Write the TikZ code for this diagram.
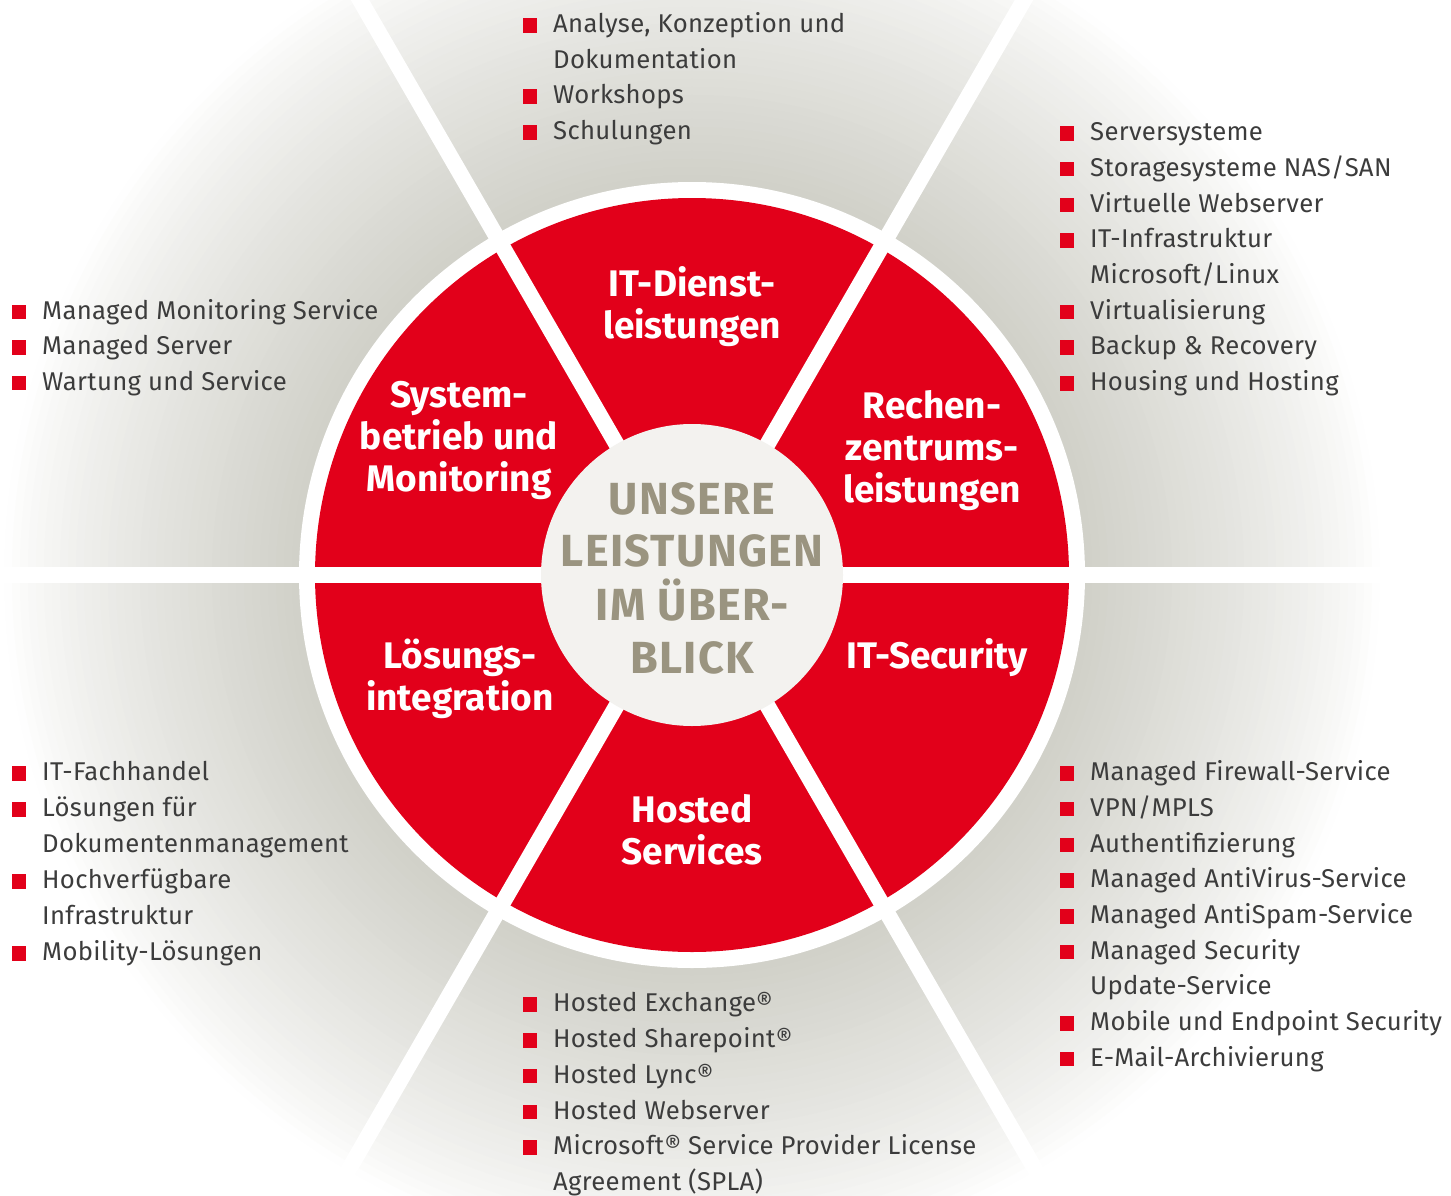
\documentclass[tikz,border=0pt]{standalone}
\usepackage{fontspec}
\setmainfont{Fira Sans}
\newfontfamily\listfont{Fira Sans}[LetterSpace=1.2]
\newfontfamily\mittefont{Fira Sans}[LetterSpace=3]
\definecolor{itred}{RGB}{226,0,26}
\definecolor{bggray}{RGB}{208,208,200}
\definecolor{innen}{RGB}{243,242,239}
\definecolor{khaki}{RGB}{154,148,128}
\definecolor{schrift}{RGB}{60,60,60}
\newcommand{\bul}{\llap{\textcolor{itred}{\rule{14.5pt}{14.5pt}}\hspace{16pt}}}

\begin{document}
\begin{tikzpicture}[x=1pt,y=-1pt,
  punkt/.style={anchor=base west,inner sep=0pt,text=schrift,font=\listfont\fontsize{25.7}{30}\selectfont},
  kopf/.style={anchor=base,inner sep=0pt,text=white,font=\bfseries\fontsize{37}{42}\selectfont},
  mitte/.style={anchor=base,inner sep=0pt,text=khaki,font=\mittefont\bfseries\fontsize{45}{50}\selectfont}]

\useasboundingbox (0,0) rectangle (1451,1196);

%Hintergrund
\foreach \r in {688,680,...,392} {
  \pgfmathsetmacro\p{100*(max(0,min(1,(690-\r)/297)))^0.8}
  \fill[bggray!\p!white] (692,575) circle (\r);
}
\fill[white] (692,575) circle (393);
\fill[itred] (692,575) circle (377);
\foreach \w in {0,60,...,300}
  \draw[white,line width=16pt] (692,575) -- ++(\w:750);
\fill[innen] (692,575) circle (151);

%Segmente
\node[kopf] (dl1) at (692,296) {IT-Dienst-};
\node[kopf] (dl2) at (692,338.3) {leistungen};
\node[kopf] (sb1) at (459,407) {System-};
\node[kopf] (sb2) at (459,449) {betrieb und};
\node[kopf] (sb3) at (459,491) {Monitoring};
\node[kopf] (rz1) at (932,418) {Rechen-};
\node[kopf] (rz2) at (932,460) {zentrums-};
\node[kopf] (rz3) at (932,502) {leistungen};
\node[kopf] (li1) at (460,668) {Lösungs-};
\node[kopf] (li2) at (460,710) {integration};
\node[kopf] (sec) at (937,668) {IT-Security};
\node[kopf] (hs1) at (692,822) {Hosted};
\node[kopf] (hs2) at (692,864) {Services};

%Mitte
\node[mitte] (m1) at (692,514) {UNSERE};
\node[mitte] (m2) at (692,566.7) {LEISTUNGEN};
\node[mitte] (m3) at (692,620) {IM ÜBER-};
\node[mitte] (m4) at (692,673.3) {BLICK};

%Listen
\foreach \t [count=\i from 0] in {{\bul Analyse, Konzeption und},Dokumentation,\bul Workshops,\bul Schulungen}
  \node[punkt] (dlp\i) at (553,33+35.5*\i) {\t};
\foreach \t [count=\i from 0] in {\bul Serversysteme,\bul Storagesysteme NAS/SAN,\bul Virtuelle Webserver,\bul IT-Infrastruktur,Microsoft/Linux,\bul Virtualisierung,\bul Backup \& Recovery,\bul Housing und Hosting}
  \node[punkt] (rzp\i) at (1090,140.7+35.7*\i) {\t};
\foreach \t [count=\i from 0] in {\bul Managed Monitoring Service,\bul Managed Server,\bul Wartung und Service}
  \node[punkt] (sbp\i) at (42,319.3+35.4*\i) {\t};
\foreach \t [count=\i from 0] in {\bul IT-Fachhandel,\bul Lösungen für,Dokumentenmanagement,\bul Hochverfügbare,Infrastruktur,\bul Mobility-Lösungen}
  \node[punkt] (lip\i) at (42,780.7+36*\i) {\t};
\foreach \t [count=\i from 0] in {\bul Hosted Exchange®,\bul Hosted Sharepoint®,\bul Hosted Lync®,\bul Hosted Webserver,\bul Microsoft® Service Provider License,Agreement (SPLA)}
  \node[punkt] (hsp\i) at (553,1011.7+35.8*\i) {\t};
\foreach \t [count=\i from 0] in {\bul Managed Firewall-Service,\bul VPN/MPLS,\bul Authentifizierung,\bul Managed AntiVirus-Service,\bul Managed AntiSpam-Service,\bul Managed Security,Update-Service,\bul Mobile und Endpoint Security,\bul E-Mail-Archivierung}
  \node[punkt] (secp\i) at (1090,780.7+35.7*\i) {\t};

\end{tikzpicture}
\end{document}
